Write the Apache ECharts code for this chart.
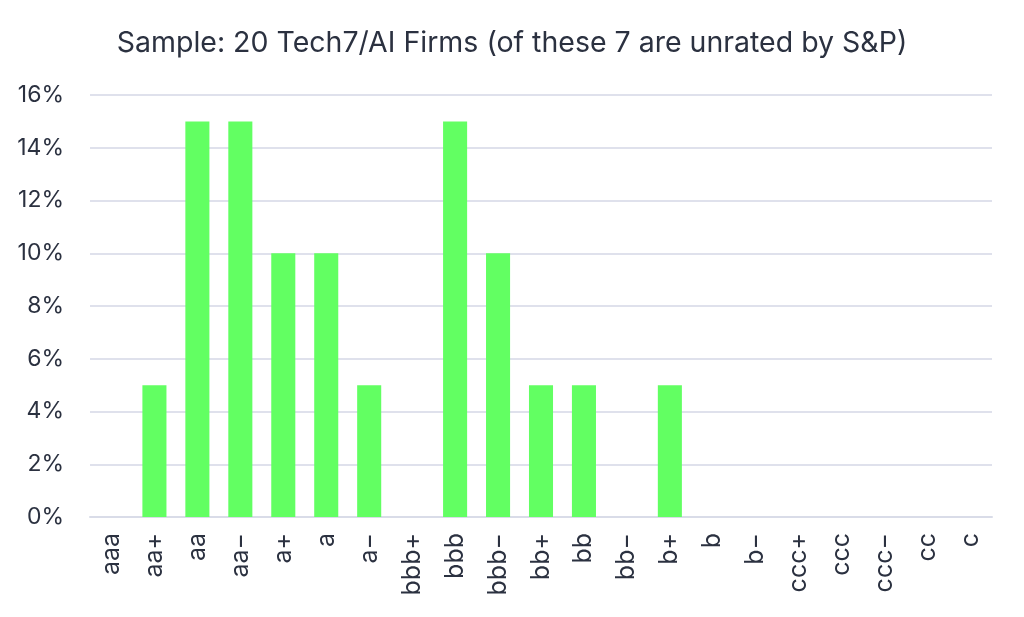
<!DOCTYPE html>
<html>
<head>
<meta charset="utf-8">
<script src="https://cdn.jsdelivr.net/npm/echarts@6/dist/echarts.min.js"></script>
<style>
  html, body { margin: 0; padding: 0; background: #fff; }
  #chart { width: 1024px; height: 617px; }
</style>
</head>
<body>
<div id="chart"></div>
<script>
// S&P ratings buckets
var ratings = ['aaa', 'aa+', 'aa', 'aa−', 'a+', 'a', 'a−', 'bbb+', 'bbb', 'bbb−', 'bb+', 'bb', 'bb−', 'b+', 'b', 'b−', 'ccc+', 'ccc', 'ccc−', 'cc', 'c'];
// share of firms (%)
var shares = [0, 5, 15, 15, 10, 10, 5, 0, 15, 10, 5, 5, 0, 5, 0, 0, 0, 0, 0, 0, 0];
var yTicks = { min: 0, max: 16, step: 2 };

var chart = echarts.init(document.getElementById('chart'));
var font = 'Inter, "Noto Sans", sans-serif';

chart.setOption({
  backgroundColor: '#fff',
  animation: false,
  title: {
    text: 'Sample: 20 Tech7/AI Firms (of these 7 are unrated by S&P)',
    left: 'center',
    top: 24,
    textStyle: { color: '#2b3140', fontSize: 28.5, fontWeight: 'normal', fontFamily: font }
  },
  grid: { left: 90, right: 32, top: 95, bottom: 100 },
  xAxis: {
    type: 'category',
    data: ratings,
    axisLine: { lineStyle: { color: '#d9dce8', width: 2 } },
    axisTick: { show: false },
    axisLabel: {
      rotate: 90,
      margin: 16,
      color: '#2b3140',
      fontSize: 25,
      fontFamily: font,
      interval: 0
    }
  },
  yAxis: {
    type: 'value',
    min: yTicks.min,
    max: yTicks.max,
    interval: yTicks.step,
    axisLine: { show: false },
    axisTick: { show: false },
    splitLine: { lineStyle: { color: '#dfe1ec', width: 2 } },
    axisLabel: {
      formatter: '{value}%',
      color: '#2b3140',
      fontSize: 23,
      fontFamily: font,
      margin: 26
    }
  },
  series: [{
    type: 'bar',
    data: shares,
    barWidth: '56%',
    itemStyle: { color: '#62ff62' }
  }]
});
</script>
</body>
</html>
